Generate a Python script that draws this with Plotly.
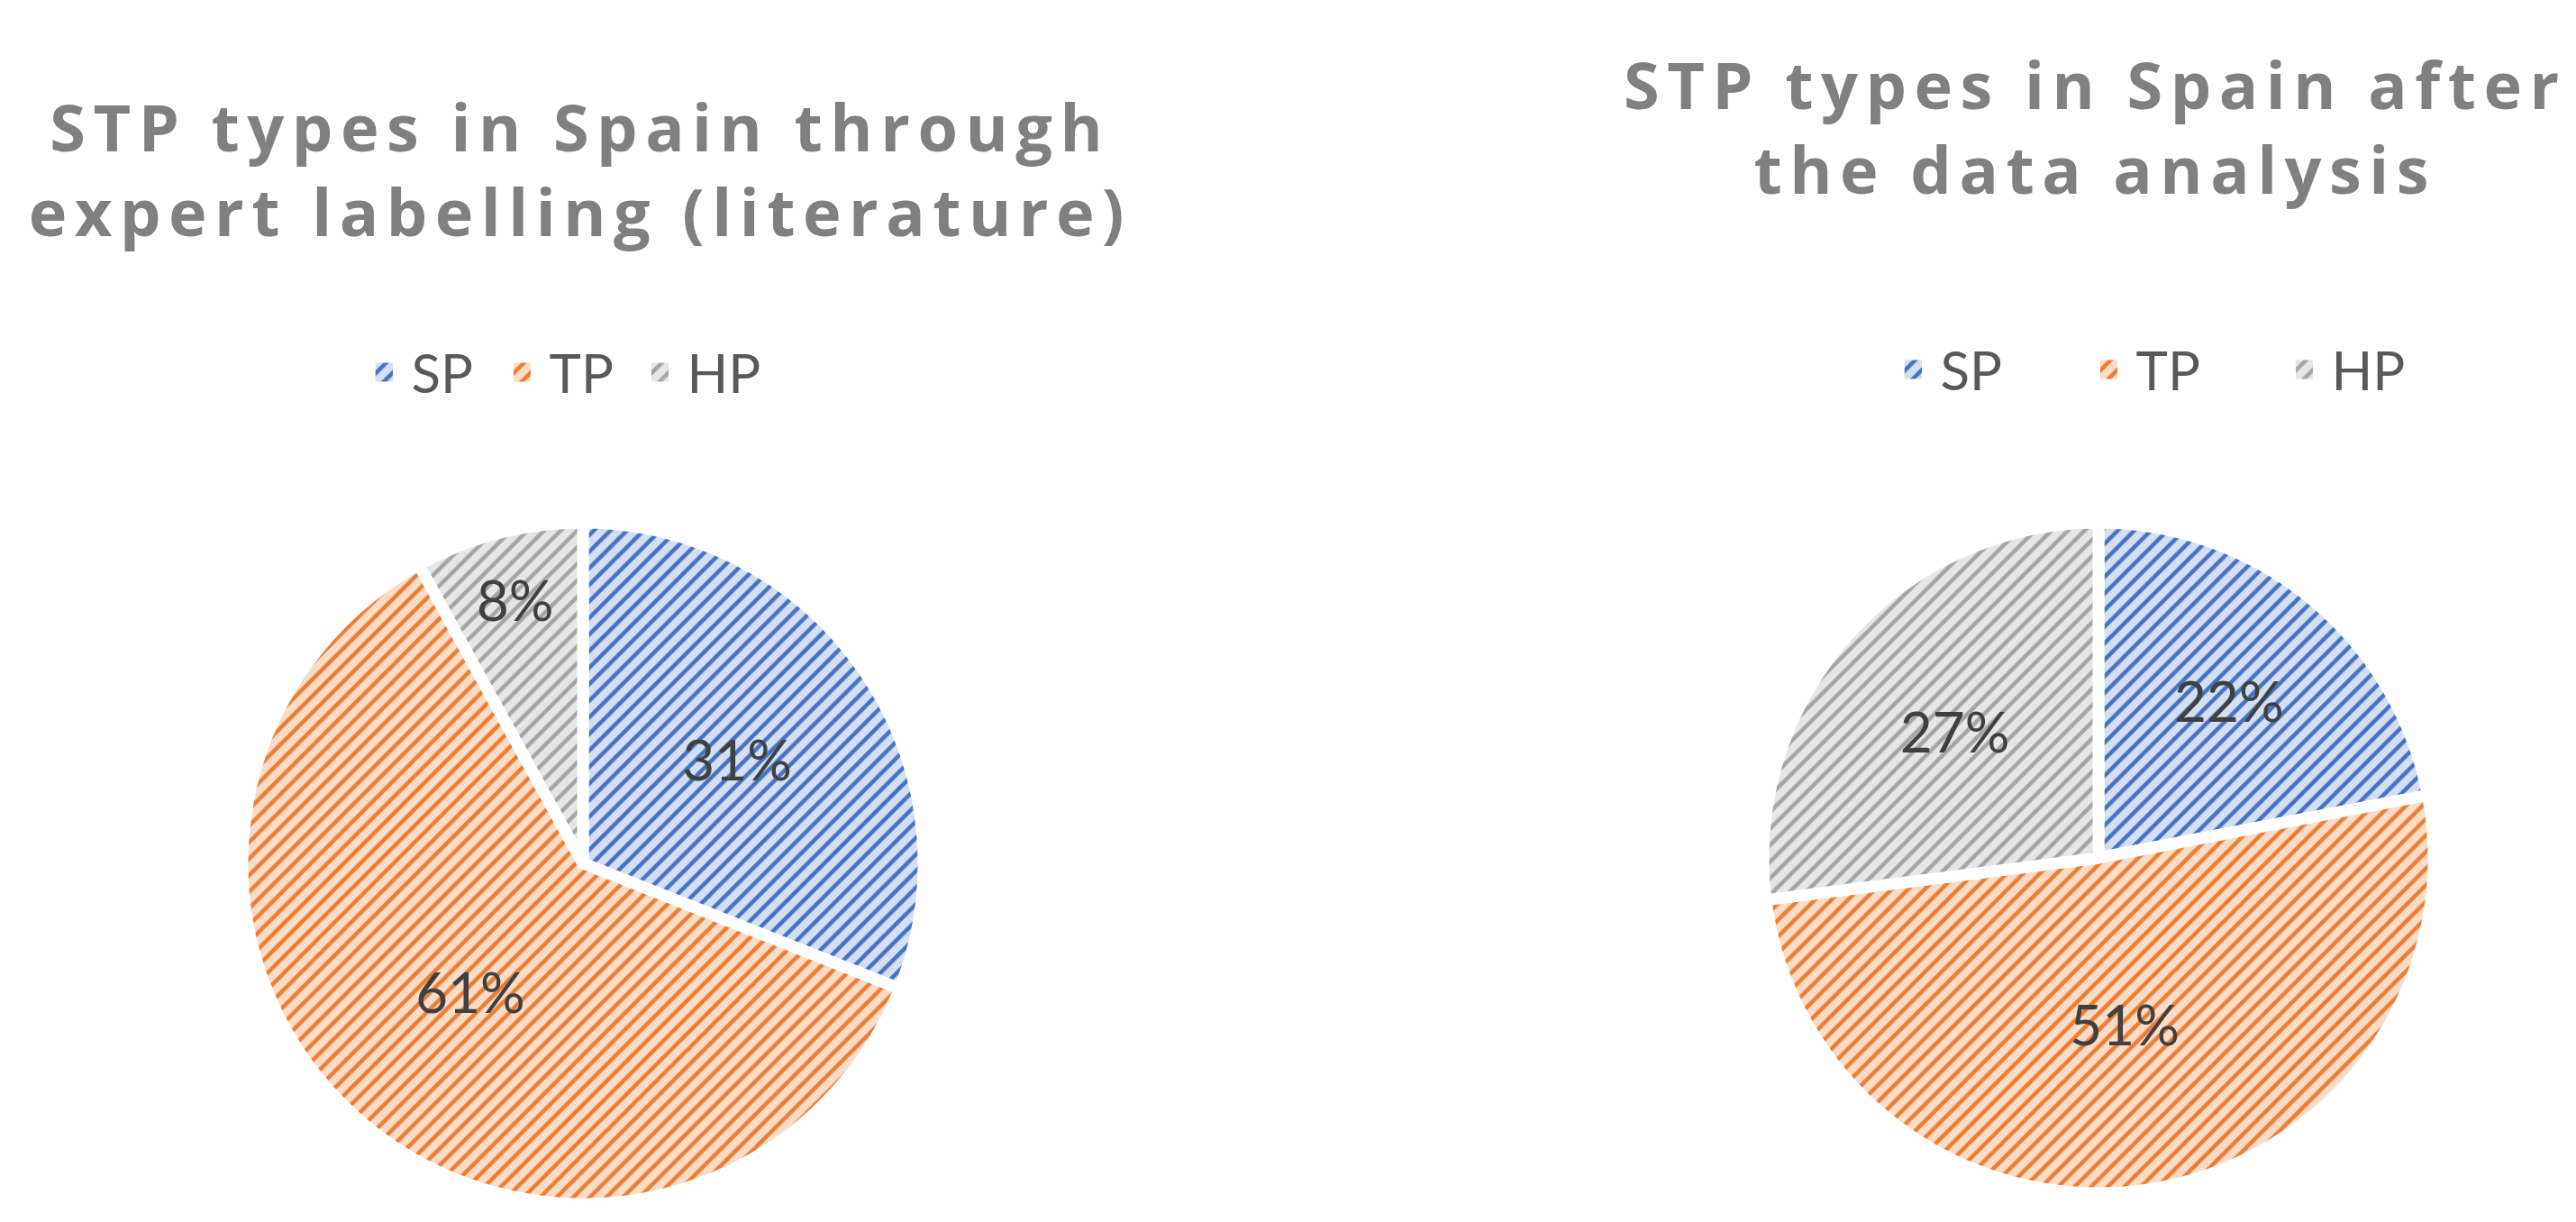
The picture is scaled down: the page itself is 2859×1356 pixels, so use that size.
import plotly.graph_objects as go

# data
categories = ['SP', 'TP', 'HP']
literature_pct = [31, 61, 8]
analysis_pct = [22, 51, 27]

titles = ['STP types in Spain through<br>expert labelling (literature)',
          'STP types in Spain after<br>the data analysis']

colors = ['#4472C4', '#ED7D31', '#A5A5A5']
light_colors = ['#D5DFF2', '#FBDCC7', '#E6E6E6']

W, H = 2859, 1356


def make_pie(values, domain, legend_name, group):
    return go.Pie(
        labels=categories,
        values=values,
        sort=False,
        direction='clockwise',
        rotation=0,
        domain=domain,
        texttemplate='%{percent:.0%}',
        textposition='inside',
        insidetextorientation='horizontal',
        textfont=dict(family='Lato', size=62, color='#404040'),
        marker=dict(
            colors=light_colors,
            line=dict(color='white', width=13),
            pattern=dict(shape='/', fgcolor=colors, bgcolor=light_colors,
                         size=13, solidity=0.35, fillmode='replace'),
        ),
        legend=legend_name,
        legendgroup=group,
        hoverinfo='label+percent',
    )


fig = go.Figure()
fig.add_trace(make_pie(literature_pct,
                       dict(x=[261 / W, 1017 / W], y=[28 / H, 784 / H]),
                       'legend', 'lit'))
fig.add_trace(make_pie(analysis_pct,
                       dict(x=[1949 / W, 2693 / W], y=[40 / H, 784 / H]),
                       'legend2', 'ana'))

title_font = dict(family='Open Sans', size=72, color='#808080', weight='bold')
fig.add_annotation(text=titles[0], x=636 / W, y=1 - 179 / H, xref='paper', yref='paper',
                   xanchor='center', yanchor='middle', showarrow=False, font=title_font)
fig.add_annotation(text=titles[1], x=2317 / W, y=1 - 132 / H, xref='paper', yref='paper',
                   xanchor='center', yanchor='middle', showarrow=False, font=title_font)

legend_font = dict(family='Lato', size=60, color='#595959')
fig.update_layout(
    width=W, height=H,
    margin=dict(l=0, r=0, t=0, b=0),
    paper_bgcolor='white',
    plot_bgcolor='white',
    legend=dict(orientation='h', traceorder='normal',
                x=638 / W, y=1 - 405 / H, xanchor='center', yanchor='middle',
                font=legend_font, entrywidth=108, entrywidthmode='pixels',
                bgcolor='rgba(0,0,0,0)'),
    legend2=dict(orientation='h', traceorder='normal',
                 x=2431 / W, y=1 - 402 / H, xanchor='center', yanchor='middle',
                 font=legend_font, entrywidth=172, entrywidthmode='pixels',
                 bgcolor='rgba(0,0,0,0)'),
)

# widen the title lettering and enlarge the legend swatches like the original chart
post_js = """
document.querySelectorAll('.annotation-text').forEach(function(t){t.style.letterSpacing='8.5px';});
document.querySelectorAll('path.legendpie').forEach(function(p){p.setAttribute('d','M2,13H-22V-13H2Z');});
"""

fig.write_html('out.html', post_script=post_js)
